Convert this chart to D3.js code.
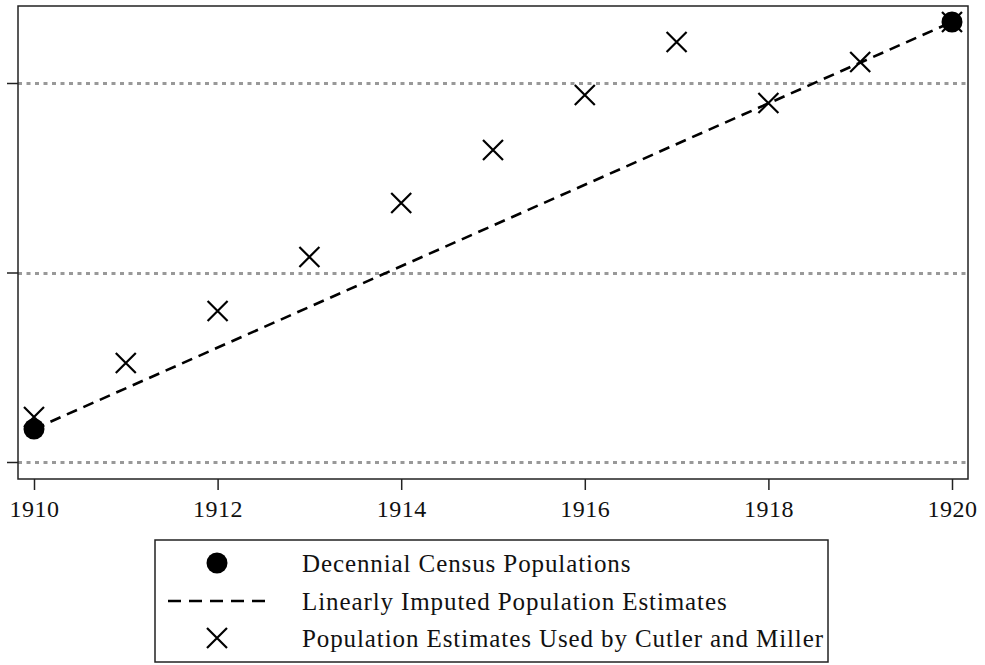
<!DOCTYPE html>
<html lang="en">
<head>
  <meta charset="UTF-8">
  <title>Census vs imputed population estimates</title>
  <script src="https://d3js.org/d3.v7.min.js"></script>
  <style>
    body { margin: 0; background: #fff; font-family: "Liberation Serif", serif; }
    .tick text { font-family: "Liberation Serif", serif; font-size: 24px; letter-spacing: 0.5px; fill: #111; }
    .legend text { font-family: "Liberation Serif", serif; font-size: 25px; letter-spacing: 0.9px; fill: #111; }
  </style>
</head>
<body>
  <div id="chart"></div>
  <script>
    // data (y in arbitrary units, no labels on the y axis)
    const censusYears = [1910, 1920];
    const censusValues = [0.174, 2.322];
    const cmYears = [1910, 1911, 1912, 1913, 1914, 1915, 1916, 1917, 1918, 1919, 1920];
    const cmValues = [0.237, 0.522, 0.797, 1.082, 1.367, 1.646, 1.937, 2.216, 1.894, 2.111, 2.322];
    const xTicks = [1910, 1912, 1914, 1916, 1918, 1920];
    const yTicks = [0, 1, 2];
    const legendLabels = [
      "Decennial Census Populations",
      "Linearly Imputed Population Estimates",
      "Population Estimates Used by Cutler and Miller"
    ];

    const width = 985, height = 665;
    const frame = { left: 18, top: 6, right: 968, bottom: 479 };

    const svg = d3.select("#chart").append("svg")
      .attr("width", width)
      .attr("height", height);

    const x = d3.scaleLinear().domain([1910, 1920]).range([34, 952]);
    const y = d3.scaleLinear().domain([0, 2]).range([462, 83]);

    // dotted gridlines
    svg.append("g").selectAll("line")
      .data(yTicks)
      .enter().append("line")
      .attr("x1", frame.left).attr("x2", frame.right)
      .attr("y1", d => Math.round(y(d)) + 0.5).attr("y2", d => Math.round(y(d)) + 0.5)
      .attr("stroke", "#999")
      .attr("stroke-width", 3)
      .attr("stroke-dasharray", "4,4.5");

    // frame
    svg.append("rect")
      .attr("x", frame.left).attr("y", frame.top)
      .attr("width", frame.right - frame.left)
      .attr("height", frame.bottom - frame.top)
      .attr("fill", "none")
      .attr("stroke", "#222")
      .attr("stroke-width", 1.5);

    // axes
    const xAxis = svg.append("g")
      .attr("transform", `translate(0, ${frame.bottom})`)
      .call(d3.axisBottom(x).tickValues(xTicks).tickFormat(d3.format("d")).tickSize(11).tickPadding(10));
    xAxis.select(".domain").remove();
    xAxis.selectAll(".tick line").attr("stroke", "#222").attr("stroke-width", 1.5);

    const yAxis = svg.append("g")
      .attr("transform", `translate(${frame.left}, 0)`)
      .call(d3.axisLeft(y).tickValues(yTicks).tickFormat("").tickSize(11));
    yAxis.select(".domain").remove();
    yAxis.selectAll(".tick line").attr("stroke", "#222").attr("stroke-width", 1.5);

    const census = censusYears.map((yr, i) => ({ yr, v: censusValues[i] }));
    const cm = cmYears.map((yr, i) => ({ yr, v: cmValues[i] }));

    // linear imputation between census points
    svg.append("path")
      .datum(census)
      .attr("d", d3.line().x(d => x(d.yr)).y(d => y(d.v)))
      .attr("fill", "none")
      .attr("stroke", "#000")
      .attr("stroke-width", 2.6)
      .attr("stroke-dasharray", "11,7");

    // census dots
    svg.append("g").selectAll("circle")
      .data(census)
      .enter().append("circle")
      .attr("cx", d => x(d.yr))
      .attr("cy", d => y(d.v))
      .attr("r", 10.5)
      .attr("fill", "#000");

    // cross markers
    svg.append("g").selectAll("path")
      .data(cm)
      .enter().append("path")
      .attr("transform", d => `translate(${x(d.yr)}, ${y(d.v)})`)
      .attr("d", "M-10,-10L10,10M-10,10L10,-10")
      .attr("stroke", "#000")
      .attr("stroke-width", 2.2)
      .attr("fill", "none");

    // legend
    const lg = svg.append("g").attr("class", "legend");
    lg.append("rect")
      .attr("x", 155).attr("y", 540)
      .attr("width", 673).attr("height", 122)
      .attr("fill", "#fff")
      .attr("stroke", "#222")
      .attr("stroke-width", 1.5);

    const rowY = [563, 601, 638];
    lg.append("circle").attr("cx", 217).attr("cy", rowY[0]).attr("r", 10.5).attr("fill", "#000");
    lg.append("line")
      .attr("x1", 168).attr("x2", 268)
      .attr("y1", rowY[1]).attr("y2", rowY[1])
      .attr("stroke", "#000").attr("stroke-width", 2.6)
      .attr("stroke-dasharray", "13,8");
    lg.append("path")
      .attr("transform", `translate(217, ${rowY[2]})`)
      .attr("d", "M-10,-10L10,10M-10,10L10,-10")
      .attr("stroke", "#000").attr("stroke-width", 2.2);

    lg.selectAll("text")
      .data(legendLabels)
      .enter().append("text")
      .attr("x", 302)
      .attr("y", (d, i) => rowY[i])
      .attr("dy", "0.35em")
      .text(d => d);
  </script>
</body>
</html>
